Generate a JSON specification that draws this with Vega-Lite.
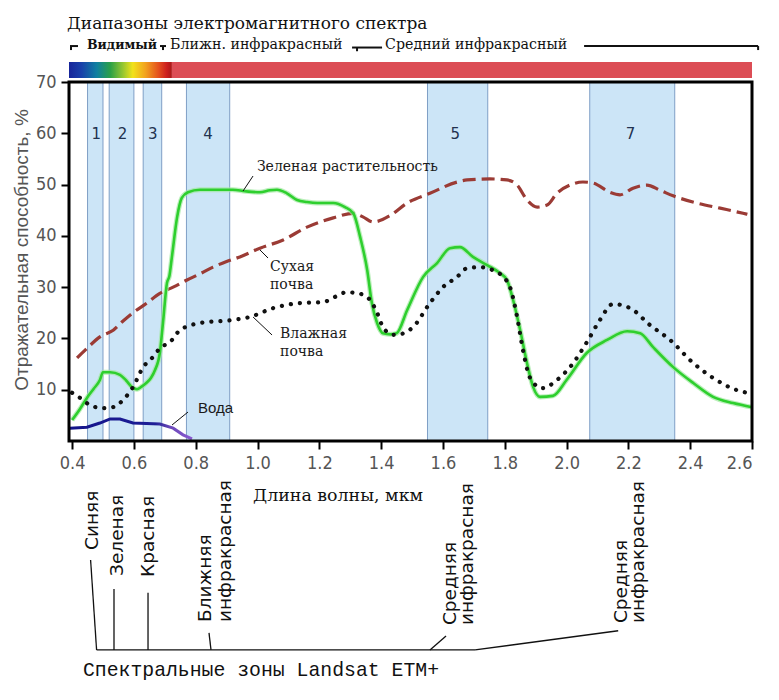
{
  "$schema": "https://vega.github.io/schema/vega-lite/v6.json",
  "width": 683,
  "height": 359,
  "autosize": {"type": "none"},
  "padding": {"left": 69, "top": 82, "right": 27, "bottom": 259},
  "background": "white",
  "config": {"view": {"stroke": null}, "axis": {"grid": false}},
  "datasets": {
    "bands": [
      {"band": "1", "x": 0.45, "x2": 0.5, "y": 0, "y2": 70},
      {"band": "2", "x": 0.52, "x2": 0.6, "y": 0, "y2": 70},
      {"band": "3", "x": 0.63, "x2": 0.69, "y": 0, "y2": 70},
      {"band": "4", "x": 0.77, "x2": 0.91, "y": 0, "y2": 70},
      {"band": "5", "x": 1.55, "x2": 1.745, "y": 0, "y2": 70},
      {"band": "7", "x": 2.075, "x2": 2.35, "y": 0, "y2": 70}
    ],
    "bandLabels": [
      {"x": 0.478, "y": 59.8, "text": "1"},
      {"x": 0.563, "y": 59.8, "text": "2"},
      {"x": 0.661, "y": 59.8, "text": "3"},
      {"x": 0.84, "y": 59.8, "text": "4"},
      {"x": 1.64, "y": 59.8, "text": "5"},
      {"x": 2.207, "y": 59.8, "text": "7"}
    ],
    "spectrum": [
      {"range": "visible", "x": 0.39, "x2": 0.723, "y": 70.8, "y2": 73.9},
      {"range": "infrared", "x": 0.723, "x2": 2.6, "y": 70.8, "y2": 73.9}
    ],
    "frame": [{"x": 0.39, "x2": 2.6, "y": 0, "y2": 70}],
    "veg": [
      {"x": 0.4, "y": 4.1}, {"x": 0.425, "y": 6.2}, {"x": 0.448, "y": 8.4}, {"x": 0.47, "y": 10.2},
      {"x": 0.49, "y": 11.9}, {"x": 0.5, "y": 13.4}, {"x": 0.523, "y": 13.4}, {"x": 0.555, "y": 12.9},
      {"x": 0.575, "y": 11.8}, {"x": 0.594, "y": 10.5}, {"x": 0.61, "y": 10.1}, {"x": 0.625, "y": 10.6},
      {"x": 0.64, "y": 11.3}, {"x": 0.655, "y": 12.3}, {"x": 0.668, "y": 13.8}, {"x": 0.684, "y": 17.2},
      {"x": 0.694, "y": 23}, {"x": 0.707, "y": 30.8}, {"x": 0.715, "y": 32.2}, {"x": 0.723, "y": 35.9},
      {"x": 0.74, "y": 43.7}, {"x": 0.755, "y": 47.4}, {"x": 0.775, "y": 48.5}, {"x": 0.814, "y": 49},
      {"x": 0.92, "y": 49}, {"x": 0.96, "y": 48.7}, {"x": 1.008, "y": 48.5}, {"x": 1.04, "y": 48.9},
      {"x": 1.063, "y": 49}, {"x": 1.095, "y": 48.3}, {"x": 1.128, "y": 47}, {"x": 1.16, "y": 46.6},
      {"x": 1.193, "y": 46.4}, {"x": 1.245, "y": 46.4}, {"x": 1.283, "y": 45.6}, {"x": 1.31, "y": 44.4},
      {"x": 1.332, "y": 39.8}, {"x": 1.355, "y": 33.3}, {"x": 1.37, "y": 26.9}, {"x": 1.387, "y": 23},
      {"x": 1.406, "y": 21}, {"x": 1.43, "y": 20.8}, {"x": 1.45, "y": 21}, {"x": 1.484, "y": 25.5},
      {"x": 1.536, "y": 32}, {"x": 1.581, "y": 34.7}, {"x": 1.623, "y": 37.6}, {"x": 1.655, "y": 37.8},
      {"x": 1.697, "y": 35.9}, {"x": 1.743, "y": 34.3}, {"x": 1.785, "y": 32.7}, {"x": 1.807, "y": 31.4},
      {"x": 1.827, "y": 27.5}, {"x": 1.85, "y": 21.6}, {"x": 1.872, "y": 15.2}, {"x": 1.892, "y": 10.5},
      {"x": 1.914, "y": 8.6}, {"x": 1.956, "y": 8.8}, {"x": 2.0, "y": 11.9}, {"x": 2.066, "y": 17.2},
      {"x": 2.131, "y": 19.7}, {"x": 2.196, "y": 21.4}, {"x": 2.238, "y": 21}, {"x": 2.28, "y": 18.3},
      {"x": 2.345, "y": 14.4}, {"x": 2.41, "y": 11.3}, {"x": 2.474, "y": 8.6}, {"x": 2.539, "y": 7.4},
      {"x": 2.6, "y": 6.6}
    ],
    "dry": [
      {"x": 0.416, "y": 16.2}, {"x": 0.452, "y": 18.3}, {"x": 0.49, "y": 20.3}, {"x": 0.533, "y": 21.6},
      {"x": 0.565, "y": 23.4}, {"x": 0.597, "y": 25}, {"x": 0.642, "y": 26.9}, {"x": 0.684, "y": 28.8},
      {"x": 0.727, "y": 30}, {"x": 0.772, "y": 31.4}, {"x": 0.814, "y": 32.6}, {"x": 0.856, "y": 33.9},
      {"x": 0.9, "y": 35}, {"x": 0.943, "y": 35.9}, {"x": 1.008, "y": 37.6}, {"x": 1.083, "y": 39.2},
      {"x": 1.16, "y": 41.7}, {"x": 1.245, "y": 43.5}, {"x": 1.31, "y": 44.4}, {"x": 1.341, "y": 43.7},
      {"x": 1.374, "y": 42.7}, {"x": 1.43, "y": 44}, {"x": 1.484, "y": 46.4}, {"x": 1.558, "y": 48.3},
      {"x": 1.646, "y": 50.5}, {"x": 1.678, "y": 50.9}, {"x": 1.752, "y": 51.1}, {"x": 1.807, "y": 50.9},
      {"x": 1.84, "y": 49.9}, {"x": 1.872, "y": 47}, {"x": 1.905, "y": 45.6}, {"x": 1.937, "y": 46},
      {"x": 1.969, "y": 48.3}, {"x": 2.011, "y": 49.9}, {"x": 2.053, "y": 50.5}, {"x": 2.086, "y": 50.3},
      {"x": 2.14, "y": 48.5}, {"x": 2.173, "y": 48}, {"x": 2.215, "y": 49.3}, {"x": 2.26, "y": 49.9},
      {"x": 2.302, "y": 48.9}, {"x": 2.345, "y": 47.8}, {"x": 2.422, "y": 46.4}, {"x": 2.497, "y": 45.4},
      {"x": 2.571, "y": 44.4}, {"x": 2.585, "y": 44.2}
    ],
    "wet": [
      {"x": 0.4, "y": 9.4}, {"x": 0.426, "y": 8.4}, {"x": 0.458, "y": 7}, {"x": 0.5, "y": 6.4},
      {"x": 0.532, "y": 6.6}, {"x": 0.571, "y": 8.4}, {"x": 0.597, "y": 10.5}, {"x": 0.63, "y": 14.4},
      {"x": 0.662, "y": 16.4}, {"x": 0.684, "y": 18.1}, {"x": 0.717, "y": 19.3}, {"x": 0.749, "y": 21.6},
      {"x": 0.814, "y": 23}, {"x": 0.92, "y": 23.6}, {"x": 0.976, "y": 24.2}, {"x": 1.05, "y": 25.9},
      {"x": 1.138, "y": 26.9}, {"x": 1.212, "y": 27.1}, {"x": 1.29, "y": 29}, {"x": 1.332, "y": 28.7},
      {"x": 1.364, "y": 27.5}, {"x": 1.387, "y": 25}, {"x": 1.406, "y": 22.2}, {"x": 1.439, "y": 20.7},
      {"x": 1.46, "y": 20.8}, {"x": 1.503, "y": 22.2}, {"x": 1.558, "y": 26.9}, {"x": 1.6, "y": 30},
      {"x": 1.646, "y": 32}, {"x": 1.678, "y": 33.7}, {"x": 1.72, "y": 33.9}, {"x": 1.762, "y": 33.3},
      {"x": 1.795, "y": 32}, {"x": 1.817, "y": 30}, {"x": 1.84, "y": 24.2}, {"x": 1.859, "y": 17.7},
      {"x": 1.882, "y": 12.3}, {"x": 1.921, "y": 10.3}, {"x": 1.969, "y": 11.9}, {"x": 2.011, "y": 14.4},
      {"x": 2.066, "y": 19.3}, {"x": 2.108, "y": 23.6}, {"x": 2.15, "y": 26.7}, {"x": 2.206, "y": 25.9},
      {"x": 2.27, "y": 22.6}, {"x": 2.335, "y": 19.7}, {"x": 2.41, "y": 15.2}, {"x": 2.474, "y": 12.3},
      {"x": 2.552, "y": 9.9}, {"x": 2.585, "y": 9.4}
    ],
    "water": [
      {"x": 0.393, "y": 2.5}, {"x": 0.448, "y": 2.7}, {"x": 0.49, "y": 3.5}, {"x": 0.523, "y": 4.3},
      {"x": 0.555, "y": 4.3}, {"x": 0.597, "y": 3.5}, {"x": 0.684, "y": 3.3}, {"x": 0.727, "y": 2.5},
      {"x": 0.759, "y": 1.2}, {"x": 0.788, "y": 0.4}
    ],
    "curveLabels": [
      {"x": 0.998, "y": 53.42, "text": "Зеленая растительность"},
      {"x": 1.0405, "y": 33.92, "text": "Сухая"},
      {"x": 1.0405, "y": 30.42, "text": "почва"},
      {"x": 1.0729, "y": 20.86, "text": "Влажная"},
      {"x": 1.0729, "y": 17.35, "text": "почва"}
    ],
    "waterLabel": [{"x": 0.8075, "y": 6.43, "text": "Вода"}],
    "leaders": [
      {"x": 0.9531, "y": 48.74, "x2": 0.9855, "y2": 51.67},
      {"x": 1.0081, "y": 37.24, "x2": 1.034, "y2": 35.68},
      {"x": 0.9855, "y": 24.18, "x2": 1.047, "y2": 20.67},
      {"x": 0.7233, "y": 3.12, "x2": 0.7751, "y2": 5.65}
    ],
    "titleText": [{"x": 0.3835, "y": 81.4, "text": "Диапазоны  электромагнитного спектра"}],
    "visibleLabel": [{"x": 0.4483, "y": 77.2, "text": "Видимый"}],
    "rangeLabels": [
      {"x": 0.7169, "y": 77.2, "text": "Ближн. инфракрасный"},
      {"x": 1.4127, "y": 77.2, "text": "Средний инфракрасный"}
    ],
    "rangeLines": [
      {"x": 0.3932, "y": 77.01, "x2": 0.4191, "y2": 77.01},
      {"x": 0.3965, "y": 77.01, "x2": 0.3965, "y2": 76.23},
      {"x": 0.6845, "y": 77.01, "x2": 0.7039, "y2": 77.01},
      {"x": 0.6942, "y": 77.01, "x2": 0.6942, "y2": 76.23},
      {"x": 1.3059, "y": 76.72, "x2": 1.403, "y2": 76.72},
      {"x": 1.322, "y": 76.72, "x2": 1.322, "y2": 76.0},
      {"x": 2.0567, "y": 77.01, "x2": 2.6198, "y2": 77.01},
      {"x": 2.6198, "y": 77.01, "x2": 2.6198, "y2": 76.23}
    ],
    "xTitle": [{"x": 0.9855, "y": -10.72, "text": "Длина волны, мкм"}],
    "yTitle": [{"x": 0.2379, "y": 37.24, "text": "Отражательная способность, %"}],
    "zones": [
      {"x": 0.4644, "y": -21.25, "text": "Синяя"},
      {"x": 0.5453, "y": -26.3, "text": "Зеленая"},
      {"x": 0.6457, "y": -26.5, "text": "Красная"},
      {"x": 0.83, "y": -35.3, "text": "Ближняя"},
      {"x": 0.895, "y": -35.3, "text": "инфракрасная"},
      {"x": 1.623, "y": -35.9, "text": "Средняя"},
      {"x": 1.678, "y": -35.9, "text": "инфракрасная"},
      {"x": 2.176, "y": -35.5, "text": "Средняя"},
      {"x": 2.231, "y": -35.5, "text": "инфракрасная"}
    ],
    "zoneLines": [
      {"x": 0.4599, "y": -23.2, "x2": 0.4793, "y2": -40.74},
      {"x": 0.5356, "y": -28.85, "x2": 0.5356, "y2": -40.74},
      {"x": 0.6457, "y": -29.6, "x2": 0.6457, "y2": -40.74},
      {"x": 0.843, "y": -37.4, "x2": 0.8495, "y2": -40.74},
      {"x": 0.4793, "y": -40.74, "x2": 1.704, "y2": -40.74},
      {"x": 1.61, "y": -38.0, "x2": 1.558, "y2": -40.74},
      {"x": 1.704, "y": -40.74, "x2": 2.167, "y2": -37.0}
    ],
    "landsat": [{"x": 0.435, "y": -44.6, "text": "Спектральные зоны Landsat ETM+"}]
  },
  "encoding": {
    "x": {
      "field": "x", "type": "quantitative",
      "scale": {"domain": [0.39, 2.6], "nice": false, "zero": false},
      "axis": {
        "values": [0.4, 0.6, 0.8, 1.0, 1.2, 1.4, 1.6, 1.8, 2.0, 2.2, 2.4, 2.6],
        "format": ".1f", "title": null, "domain": false, "grid": false,
        "tickSize": 8, "tickWidth": 2, "tickColor": "#000",
        "labelFont": "Liberation Sans Narrow, DejaVu Sans Condensed, sans-serif",
        "labelFontSize": 18, "labelColor": "#555", "labelPadding": 5
      }
    },
    "y": {
      "field": "y", "type": "quantitative",
      "scale": {"domain": [0, 70], "nice": false, "zero": false},
      "axis": {
        "values": [10, 20, 30, 40, 50, 60, 70],
        "title": null, "domain": false, "grid": false,
        "tickSize": 8, "tickWidth": 2, "tickColor": "#000",
        "labelFont": "Liberation Sans Narrow, DejaVu Sans Condensed, sans-serif",
        "labelFontSize": 18, "labelColor": "#555", "labelPadding": 5
      }
    }
  },
  "layer": [
    {
      "data": {"name": "bands"},
      "mark": {"type": "rect", "fill": "#cce5f7", "stroke": "#7f9fc6", "strokeWidth": 1},
      "encoding": {"x2": {"field": "x2"}, "y2": {"field": "y2"}}
    },
    {
      "data": {"name": "spectrum"},
      "transform": [{"filter": "datum.range === 'visible'"}],
      "mark": {
        "type": "rect",
        "fill": {
          "gradient": "linear", "x1": 0, "y1": 0, "x2": 1, "y2": 0,
          "stops": [
            {"offset": 0, "color": "#17259a"},
            {"offset": 0.12, "color": "#1840aa"},
            {"offset": 0.27, "color": "#0f80a0"},
            {"offset": 0.4, "color": "#2aa048"},
            {"offset": 0.53, "color": "#9cc830"},
            {"offset": 0.62, "color": "#f2e21a"},
            {"offset": 0.74, "color": "#f2a41e"},
            {"offset": 0.87, "color": "#e4501e"},
            {"offset": 0.95, "color": "#cc1e1e"},
            {"offset": 1, "color": "#a81818"}
          ]
        }
      },
      "encoding": {"x2": {"field": "x2"}, "y2": {"field": "y2"}}
    },
    {
      "data": {"name": "spectrum"},
      "transform": [{"filter": "datum.range === 'infrared'"}],
      "mark": {"type": "rect", "fill": "#dc4d55"},
      "encoding": {"x2": {"field": "x2"}, "y2": {"field": "y2"}}
    },
    {
      "data": {"name": "water"},
      "mark": {
        "type": "line", "strokeWidth": 3,
        "stroke": {
          "gradient": "linear", "x1": 0, "y1": 0, "x2": 1, "y2": 0,
          "stops": [
            {"offset": 0, "color": "#14148a"},
            {"offset": 0.7, "color": "#1e1e96"},
            {"offset": 0.82, "color": "#6a48b8"},
            {"offset": 1, "color": "#8a5ad0"}
          ]
        }
      },
      "encoding": {}
    },
    {
      "data": {"name": "dry"},
      "mark": {"type": "line", "color": "#9b3b35", "strokeWidth": 3.2, "strokeDash": [13, 6], "interpolate": "monotone"},
      "encoding": {}
    },
    {
      "data": {"name": "veg"},
      "mark": {"type": "line", "color": "#9fe89f", "strokeWidth": 5, "opacity": 0.7, "interpolate": "monotone"},
      "encoding": {}
    },
    {
      "data": {"name": "veg"},
      "mark": {"type": "line", "color": "#2ecf2e", "strokeWidth": 2.6, "interpolate": "monotone"},
      "encoding": {}
    },
    {
      "data": {"name": "wet"},
      "mark": {"type": "line", "color": "#111", "strokeWidth": 4.2, "strokeDash": [0.1, 9], "strokeCap": "round", "interpolate": "monotone"},
      "encoding": {}
    },
    {
      "data": {"name": "bandLabels"},
      "mark": {"type": "text", "font": "DejaVu Sans, sans-serif", "fontSize": 15, "color": "#22324f", "align": "center", "baseline": "middle"},
      "encoding": {"text": {"field": "text"}}
    },
    {
      "data": {"name": "curveLabels"},
      "mark": {"type": "text", "font": "DejaVu Serif, serif", "fontSize": 14, "color": "#1a1a1a", "align": "left", "baseline": "middle"},
      "encoding": {"text": {"field": "text"}}
    },
    {
      "data": {"name": "waterLabel"},
      "mark": {"type": "text", "font": "Liberation Sans, sans-serif", "fontSize": 15, "color": "#1a1a1a", "align": "left", "baseline": "middle"},
      "encoding": {"text": {"field": "text"}}
    },
    {
      "data": {"name": "leaders"},
      "mark": {"type": "rule", "color": "#111", "strokeWidth": 1},
      "encoding": {"x2": {"field": "x2"}, "y2": {"field": "y2"}}
    },
    {
      "data": {"name": "titleText"},
      "mark": {"type": "text", "font": "DejaVu Serif, serif", "fontSize": 17, "color": "#111", "align": "left", "baseline": "middle"},
      "encoding": {"text": {"field": "text"}}
    },
    {
      "data": {"name": "visibleLabel"},
      "mark": {"type": "text", "font": "DejaVu Serif, serif", "fontSize": 12.5, "fontWeight": "bold", "color": "#111", "align": "left", "baseline": "middle"},
      "encoding": {"text": {"field": "text"}}
    },
    {
      "data": {"name": "rangeLabels"},
      "mark": {"type": "text", "font": "DejaVu Serif, serif", "fontSize": 14.2, "color": "#111", "align": "left", "baseline": "middle"},
      "encoding": {"text": {"field": "text"}}
    },
    {
      "data": {"name": "rangeLines"},
      "mark": {"type": "rule", "color": "#111", "strokeWidth": 2},
      "encoding": {"x2": {"field": "x2"}, "y2": {"field": "y2"}}
    },
    {
      "data": {"name": "xTitle"},
      "mark": {"type": "text", "font": "DejaVu Serif, serif", "fontSize": 17.4, "color": "#111", "align": "left", "baseline": "middle"},
      "encoding": {"text": {"field": "text"}}
    },
    {
      "data": {"name": "yTitle"},
      "mark": {"type": "text", "font": "Liberation Sans, sans-serif", "fontSize": 19, "color": "#555", "align": "center", "baseline": "middle", "angle": 270},
      "encoding": {"text": {"field": "text"}}
    },
    {
      "data": {"name": "zones"},
      "mark": {"type": "text", "font": "DejaVu Sans, sans-serif", "fontSize": 18.5, "color": "#111", "align": "left", "baseline": "middle", "angle": 270},
      "encoding": {"text": {"field": "text"}}
    },
    {
      "data": {"name": "zoneLines"},
      "mark": {"type": "rule", "color": "#111", "strokeWidth": 1.3},
      "encoding": {"x2": {"field": "x2"}, "y2": {"field": "y2"}}
    },
    {
      "data": {"name": "landsat"},
      "mark": {"type": "text", "font": "Liberation Mono, monospace", "fontSize": 19.8, "color": "#111", "align": "left", "baseline": "middle"},
      "encoding": {"text": {"field": "text"}}
    },
    {
      "data": {"name": "frame"},
      "mark": {"type": "rect", "fill": "transparent", "stroke": "#000", "strokeWidth": 3},
      "encoding": {"x2": {"field": "x2"}, "y2": {"field": "y2"}}
    }
  ]
}
